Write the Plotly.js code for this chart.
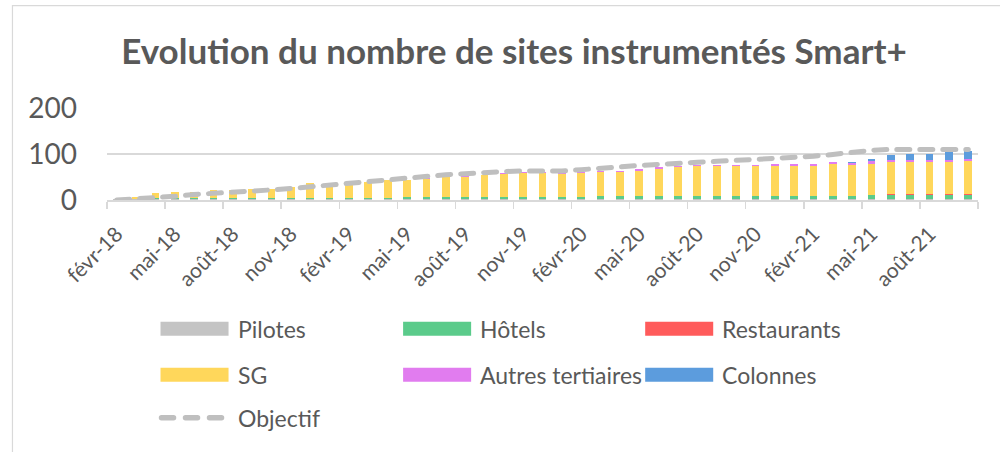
<!DOCTYPE html>
<html>
<head>
<meta charset="utf-8">
<script src="https://cdn.plot.ly/plotly-3.0.1.min.js"></script>
<style>
  html, body { margin: 0; padding: 0; background: #fff; }
  #chart { width: 1000px; height: 452px; }
  .scatterlayer path.js-line { stroke-linecap: round; }
  .shapelayer path { stroke-linecap: round; }
</style>
</head>
<body>
<div id="chart"></div>
<script>
const months = [
  'févr-18','mars-18','avr-18','mai-18','juin-18','juil-18','août-18','sept-18','oct-18','nov-18','déc-18',
  'janv-19','févr-19','mars-19','avr-19','mai-19','juin-19','juil-19','août-19','sept-19','oct-19','nov-19','déc-19',
  'janv-20','févr-20','mars-20','avr-20','mai-20','juin-20','juil-20','août-20','sept-20','oct-20','nov-20','déc-20',
  'janv-21','févr-21','mars-21','avr-21','mai-21','juin-21','juil-21','août-21','sept-21','oct-21'
];

const pilotes = [2,2,2,2,2,2,2,2,2,2, 2,2,2,2,2, 2,2,2,2,2,2, 2,2,2,2, 2,2,2,2,2, 2,2,2,2,2,2,2,2,2, 2,2,2,2,2,2];
const hotels = [0,0,2,2,2,2,2,2,2,2, 3,3,3,3,3, 4,4,4,4,4,4, 5,5,5,5, 6,6,6,6,6, 7,7,7,7,7,7,7,7,7, 8,8,8,8,8,8];
const restaurants = [0,0,0,0,0,0,0,0,0,0, 0,0,0,0,0, 0,0,0,0,0,0, 0,0,0,0, 0,0,0,0,0, 0,0,0,0,0,0,0,0,0, 0,2,2,2,2,2];
const sg = [0,4,11,13,14,18,18,19,21,25, 31,31,34,35,39, 38,40,44,45,48,50, 51,52,50,51, 52,53,56,60,63, 64,64,64,64,66,66,66,69,68, 69,71,70,70,71,73];
const autres = [0,0,0,0,0,0,0,0,0,0, 0,0,0,0,0, 0,1,1,1,1,2, 2,2,2,2, 3,3,3,3,3, 3,3,3,3,3,4,4,4,4, 5,5,5,5,5,5];
const colonnes = [0,0,0,0,0,0,0,0,0,0, 0,0,0,0,0, 0,0,0,0,0,0, 0,0,0,0, 0,0,0,0,0, 0,0,0,0,0,0,0,0,2, 6,9,12,12,16,17];
const objectif = [0,2,5,8,12,14,16,19,22,25, 29,33,36,39,43, 48,52,55,57,60,62, 63,63,63,66, 68,72,75,78,80, 82,84,86,88,90,92,95,99,104, 108,110,110,110,110,110];

const seriesNames = ['Pilotes','Hôtels','Restaurants','SG','Autres tertiaires','Colonnes'];
const seriesValues = [pilotes, hotels, restaurants, sg, autres, colonnes];
const seriesColors = ['#C4C4C4','#5BCB8B','#FF5B5B','#FFD75B','#E17CEF','#5C9CDD'];
const lineName = 'Objectif';
const lineColor = '#BFBFBF';
const titleText = 'Evolution du nombre de sites instrumentés Smart+';

const FONT = 'Lato, "Open Sans", "Liberation Sans", sans-serif';
const TXT = '#595959';

// plot area in pixels
const L = 107, R = 977.7, T = 108.3, B = 200.3;
const W = R - L, H = B - T;
const px = v => (v - L) / W;
const py = v => (B - v) / H;

const traces = seriesNames.map((n, i) => ({
  type: 'bar', name: n, x: months, y: seriesValues[i],
  marker: { color: seriesColors[i], line: { width: 0 } },
  hoverinfo: 'x+y+name'
}));
traces.push({
  type: 'scatter', mode: 'lines', name: lineName, x: months, y: objectif,
  line: { color: lineColor, width: 5, dash: '13px,10px' }
});

// manual legend
const shapes = [];
const annotations = [];
const colX = [160.5, 403, 645];
const rowY = [329, 375, 418];
const swW = 68, swH = 14;
seriesNames.forEach((n, i) => {
  const cx = colX[i % 3], cy = rowY[Math.floor(i / 3)];
  shapes.push({
    type: 'rect', xref: 'paper', yref: 'paper',
    x0: px(cx), x1: px(cx + swW), y0: py(cy - swH / 2), y1: py(cy + swH / 2),
    fillcolor: seriesColors[i], line: { width: 0 }
  });
  annotations.push({
    xref: 'paper', yref: 'paper', x: px(cx + swW + 7), y: py(cy),
    xanchor: 'left', yanchor: 'middle', showarrow: false, text: n,
    font: { family: FONT, size: 23, color: TXT }
  });
});
shapes.push({
  type: 'line', xref: 'paper', yref: 'paper',
  x0: px(161.5), x1: px(222.5), y0: py(rowY[2]), y1: py(rowY[2]),
  line: { color: lineColor, width: 5.5, dash: '12px,12px' }
});
annotations.push({
  xref: 'paper', yref: 'paper', x: px(colX[0] + swW + 7), y: py(rowY[2]),
  xanchor: 'left', yanchor: 'middle', showarrow: false, text: lineName,
  font: { family: FONT, size: 23, color: TXT }
});
// chart border (left & top visible)
shapes.push({
  type: 'rect', xref: 'paper', yref: 'paper', layer: 'below',
  x0: px(12.5), x1: px(1010), y0: py(470), y1: py(6),
  line: { color: '#D9D9D9', width: 1.2 }, fillcolor: 'rgba(0,0,0,0)'
});

const layout = {
  width: 1000, height: 452,
  margin: { l: L, r: 1000 - R, t: T, b: 452 - B, pad: 0 },
  paper_bgcolor: '#ffffff', plot_bgcolor: '#ffffff',
  barmode: 'stack', bargap: 0.6,
  showlegend: false,
  title: {
    text: titleText, x: 0.514, xanchor: 'center', xref: 'container',
    y: 1 - 52 / 452, yanchor: 'middle', yref: 'container',
    font: { family: FONT, size: 35, weight: 700, color: TXT }
  },
  xaxis: {
    type: 'category', tickmode: 'linear', tick0: 0, dtick: 3,
    tickson: 'boundaries', ticks: 'outside', ticklen: 7, tickwidth: 1.5, tickcolor: '#D9D9D9',
    showline: true, linecolor: '#D9D9D9', linewidth: 1.5,
    showgrid: false, tickangle: -45, ticklabelstandoff: 12,
    tickfont: { family: FONT, size: 21, color: TXT },
    range: [-0.5, months.length - 0.5], fixedrange: true
  },
  yaxis: {
    range: [0, 200], tickvals: [0, 100, 200], ticks: '',
    showgrid: true, gridcolor: '#D9D9D9', gridwidth: 1.5,
    zeroline: false, showline: false, ticklabelstandoff: 29,
    tickfont: { family: FONT, size: 28, color: TXT }, fixedrange: true
  },
  shapes: shapes,
  annotations: annotations,
  font: { family: FONT, color: TXT }
};

Plotly.newPlot('chart', traces, layout, { displayModeBar: false, staticPlot: true });
</script>
</body>
</html>
